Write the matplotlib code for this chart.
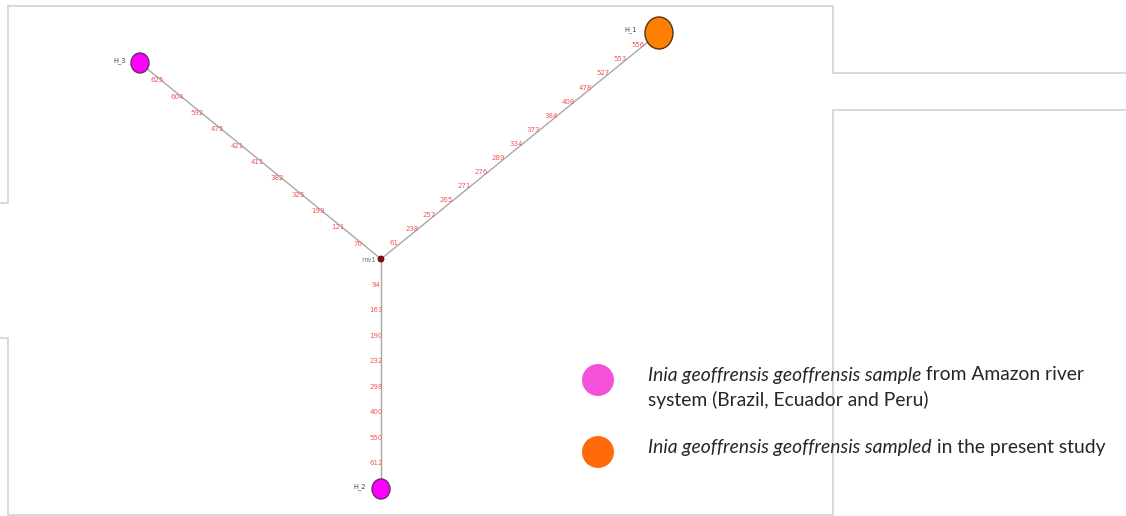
#!/usr/bin/env python3
"""
Median-joining haplotype network for Inia geoffrensis geoffrensis
"""

import numpy as np
import matplotlib
matplotlib.use('Agg')  # Non-interactive backend
import matplotlib.pyplot as plt
from matplotlib.patches import Ellipse

# Mutated positions along each branch, listed from the haplotype towards mv1
branch_h3 = [625, 604, 592, 475, 421, 411, 382, 325, 199, 121, 70]
branch_h1 = [556, 553, 527, 478, 408, 384, 373, 334, 289, 276, 271, 265, 257, 238, 61]
branch_h2 = [612, 550, 400, 298, 232, 190, 163, 94]

haplotypes = ['H_1', 'H_2', 'H_3']
node_colors = {'H_1': '#ff8000', 'H_2': '#ff00ff', 'H_3': '#ff00ff'}
node_sizes = {'H_1': 2, 'H_2': 1, 'H_3': 1}   # relative frequency

legend_labels = [
    ('Inia geoffrensis geoffrensis sample', ' from Amazon river'),
    ('', 'system (Brazil, Ecuador and Peru)'),
    ('Inia geoffrensis geoffrensis sampled', ' in the present study'),
]
legend_colors = ['#f552dc', '#ff6a0a']

# Layout of the network (canvas pixels, y downwards)
layout = {'mv1': (381, 259), 'H_3': (140, 63), 'H_1': (659, 33), 'H_2': (381, 489)}
label_offsets = {'H_3': (-5, -2), 'H_1': (-8, -3), 'H_2': (-6, -2)}

W, H = 1126, 516
fig = plt.figure(figsize=(W / 100, H / 100), dpi=100)
ax = fig.add_axes([0, 0, 1, 1])
ax.set_xlim(0, W)
ax.set_ylim(H, 0)
ax.axis('off')

# Light grey page frames
frame_kw = dict(color='#d9d9d9', lw=1.4, solid_joinstyle='miter')
ax.plot([0, 8, 8, 833, 833, W], [203, 203, 6, 6, 73, 73], **frame_kw)
ax.plot([0, 8, 8, 833, 833, W], [338, 338, 515, 515, 110, 110], **frame_kw)

# Branches with mutation labels spread evenly along them
branches = [('H_3', branch_h3, 12, (-3, 1)), ('H_1', branch_h1, 16, (-4, -2)),
            ('H_2', branch_h2, 9, (-5, 0))]
cx, cy = layout['mv1']
for name, sites, n_div, (dx, dy) in branches:
    hx, hy = layout[name]
    ax.plot([hx, cx], [hy, cy], color='#a8a8a8', lw=1.0, zorder=1)
    for k, site in enumerate(sites, start=1):
        t = k / n_div
        x = hx + (cx - hx) * t + dx
        y = hy + (cy - hy) * t + dy
        ax.text(x, y, str(site), fontsize=5, color='#f05a5a',
                ha='center', va='center', zorder=3)

# Haplotype nodes
for name in haplotypes:
    x, y = layout[name]
    s = node_sizes[name]
    w, h = (18, 20) if s == 1 else (28, 32)
    ax.add_patch(Ellipse((x, y), w, h, facecolor=node_colors[name],
                         edgecolor='#6a2a6a' if s == 1 else '#5a3010',
                         lw=1.0, zorder=4))
    ox, oy = label_offsets[name]
    ax.text(x - w / 2 + ox, y + oy, name, fontsize=4.8, color='#404040',
            ha='right', va='center', zorder=5)

# Median vector
ax.add_patch(Ellipse(layout['mv1'], 6, 6, facecolor='#8b0a0a',
                     edgecolor='#5a0000', lw=0.6, zorder=4))
ax.text(cx - 5, cy + 1, 'mv1', fontsize=4.8, color='#5a8a5a',
        ha='right', va='center', zorder=5)

# Legend
font = ['Lato', 'DejaVu Sans']
for color, yy in zip(legend_colors, [380, 452]):
    ax.add_patch(Ellipse((598, yy), 32, 32, facecolor=color, edgecolor='none'))

for (ital, plain), yy in zip(legend_labels, [375, 400, 447]):
    t = ax.text(648, yy, ital if ital else plain, fontsize=13.9,
                family=font, style='italic' if ital else 'normal',
                color='#262626', ha='left', va='center')
    if ital:
        ax.annotate(plain, xy=(1, 0.5), xycoords=t, fontsize=13.9,
                    family=font, color='#262626', ha='left', va='center')

plt.savefig('out.png', dpi=100)
plt.close()
